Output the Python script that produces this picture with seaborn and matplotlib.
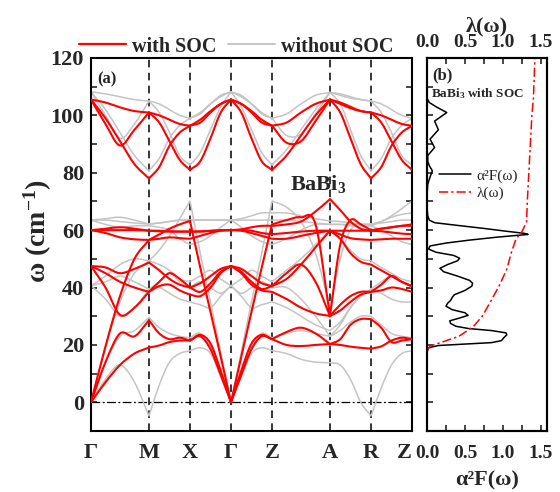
import numpy as np
import matplotlib
matplotlib.use("Agg")
import matplotlib.pyplot as plt
from matplotlib.path import Path
from matplotlib.patches import PathPatch
from matplotlib.lines import Line2D
import seaborn as sns
import pandas as pd

sns.set_theme(style="ticks")
plt.rcParams['font.family'] = ['Liberation Serif', 'DejaVu Serif']
plt.rcParams['mathtext.fontset'] = 'custom'
plt.rcParams['mathtext.rm'] = 'Liberation Serif'
plt.rcParams['mathtext.bf'] = 'Liberation Serif:bold'
plt.rcParams['mathtext.it'] = 'Liberation Serif:italic'

# high-symmetry path
kpoint_labels = ["Γ", "M", "X", "Γ", "Z", "A", "R", "Z"]
kpoint_dist = [0.0, 0.707, 1.207, 1.707, 2.207, 2.914, 3.414, 3.914]
samples_per_segment = 4

# phonon frequencies (cm^-1) with spin-orbit coupling, 4 samples per segment
# order: Γ-M | M-X | X-Γ | Γ-Z | Z-A | A-R | R-Z
soc_1 = [0, 7, 13, 17, 19.1, 19.8, 21, 21.5, 21.5, 23.5, 20.5, 11, 0, 11, 20.5, 23.5, 22,
         20, 19.6, 20, 20.3, 20, 19.4, 19, 18.7, 19.5, 21.5, 22.5, 22]
soc_2 = [0, 14, 24, 23, 28.6, 24, 22, 22.5, 21.5, 23, 18.5, 9.5, 0, 9.5, 18.5, 23, 22,
         24.5, 26, 24, 20.3, 22, 27, 29, 29, 26, 21, 21.5, 22]
soc_3 = [0, 19.5, 37, 50, 56.6, 58.5, 60.5, 62, 63.2, 47, 31.5, 15.8, 0, 15.8, 31.5, 47, 62,
         63.5, 64.5, 62, 30.1, 55, 63.5, 62, 60, 60.5, 61, 61.5, 62]
soc_4 = [47.5, 40, 30.5, 33, 38.5, 40.5, 41, 39, 37.5, 37, 40, 45, 47.5, 45, 41, 39, 38.5,
         36, 33, 31, 30.1, 32, 35, 37.5, 38.5, 39, 40, 39.5, 38.5]
soc_5 = [47.5, 45, 42, 40, 38.5, 42, 45, 43, 40, 38.5, 41.5, 45.5, 47.5, 45.5, 42, 39.5, 40.5,
         45, 48, 42, 30.1, 34, 37, 38.5, 38.5, 41, 44, 42, 40.5]
soc_6 = [47.5, 47, 45, 46.5, 48.7, 46, 43, 41, 40, 41.5, 44, 46.5, 47.5, 46.5, 44, 41.5, 40.5,
         43, 48, 54, 59.8, 57, 52, 49, 48, 46, 44, 42, 40.5]
soc_7 = [60, 59, 57.5, 56.8, 56.6, 57, 57.5, 57.2, 57, 58, 59, 59.8, 60, 59.8, 59, 58, 57,
         57, 58, 59, 59.8, 58.5, 57.2, 56.8, 56.6, 56.8, 57, 57, 57]
soc_8 = [60, 60, 60, 60, 59.8, 59.6, 59.5, 59.5, 59.5, 59.6, 59.8, 60, 60, 60, 59.8, 59, 58.6,
         59, 59.5, 59.8, 59.8, 59.8, 59.8, 59.8, 59.8, 59.6, 59.2, 58.8, 58.6]
soc_9 = [60, 60.5, 61, 60.5, 59.8, 59.8, 59.6, 59.5, 59.5, 59.5, 59.7, 59.9, 60, 60.3, 61, 61.5, 61.5,
         62, 63, 66.5, 70.8, 67, 63, 60.5, 59.8, 60.5, 61, 61.5, 61.5]
soc_10 = [105.5, 104.5, 102.8, 101.5, 101, 100, 98.5, 97, 96.4, 97.5, 101, 104, 105.5, 104, 101, 97.5, 96.4,
          97.5, 101, 104, 105.5, 104.5, 103, 101.5, 101, 100, 98.5, 97, 96.4]
soc_11 = [105.5, 97, 89.5, 95, 101, 97.5, 91, 84.5, 81, 84, 92, 101, 105.5, 101, 92, 84, 81,
          86, 93, 100, 105.5, 104, 102.5, 101.5, 101, 97.5, 91, 84.5, 81]
soc_12 = [105.5, 99, 91, 83, 78, 82, 89.4, 94, 96.4, 98.5, 101.5, 104, 105.5, 104, 101.5, 98.5, 96.4,
          90.5, 91, 98, 105.5, 101, 92, 83, 78, 82, 89.4, 94, 96.4]

# phonon frequencies (cm^-1) without spin-orbit coupling
nosoc_1 = [0, 8, 13, 7, -4.8, 6, 14, 17, 18, 19, 17, 9, 0, 9, 17, 19, 18,
           17, 15, 14, 13.8, 13, 8, 0, -4.8, 5, 13, 17, 18]
nosoc_2 = [0, 14, 23, 25, 29.6, 26, 24, 23, 22.5, 24, 19.5, 10, 0, 10, 19.5, 24, 22.5,
           24, 25, 24, 23, 25, 28, 30, 30, 27, 24, 23, 22.5]
nosoc_3 = [0, 19, 35, 45, 49.3, 53, 58, 64, 70.2, 52, 35, 17.5, 0, 17.5, 35, 52, 70.2,
           68, 63, 52, 33, 50, 60, 62, 61.5, 63, 65, 67.5, 70.2]
nosoc_4 = [40.6, 36, 30, 33, 39.4, 40, 38, 36, 35, 34, 33, 37, 40.6, 37, 33, 34, 35,
           33, 30, 27, 25, 28, 33, 37, 39.4, 38, 36, 35, 35]
nosoc_5 = [40.6, 42, 44, 42, 39.4, 42, 45, 42, 40, 42, 40, 38, 40.6, 38, 40, 42, 40,
           40, 36, 30, 23, 27, 33, 37, 39.4, 42, 44, 42, 40]
nosoc_6 = [40.6, 44, 48, 50, 49.3, 48, 46, 43, 42, 44, 46, 43, 40.6, 43, 46, 44, 42,
           46, 50, 55, 60, 57, 53, 50, 49.3, 47, 45, 43, 42]
nosoc_7 = [63.5, 62, 61, 61.5, 61.5, 61, 60, 57, 55, 56, 58, 61, 63.5, 61, 58, 56, 55,
           57, 60, 62, 62, 62, 61.5, 61.5, 61.5, 60, 58, 56, 55]
nosoc_8 = [63.5, 63.5, 63, 62.5, 62.1, 62.5, 63, 63.5, 63.5, 63.5, 63.5, 63.5, 63.5, 63.5, 63.5, 63.5, 63.5,
           63.5, 63, 62.5, 62, 62, 62, 62, 62.1, 62.5, 63, 63.5, 63.5]
nosoc_9 = [63.5, 64, 64.5, 63.5, 62.1, 62.5, 63, 63.5, 63.5, 63.5, 63.5, 63.5, 63.5, 64, 65, 66, 66,
           66, 65, 64, 63.2, 63, 62.5, 62, 62.1, 63, 64.5, 65.5, 66]
nosoc_10 = [108.2, 107.5, 106.5, 105.5, 105, 104, 102, 100, 99, 100.5, 104, 107, 108.2, 107, 104, 100.5, 99,
            100.5, 104, 107, 108, 107.5, 106.5, 105.5, 105, 104, 102, 100, 99]
nosoc_11 = [108.2, 100, 92, 97, 105, 101, 94, 86, 82.7, 87, 95, 103, 108.2, 103, 95, 87, 82.7,
            88, 95, 102, 108, 107, 106, 105.5, 105, 101, 94, 86, 82.7]
nosoc_12 = [108.2, 102, 94, 86, 80.7, 85, 92, 96.5, 99, 101, 104, 106.5, 108.2, 106.5, 104, 101, 99,
            93, 93.5, 100.5, 108, 104, 95, 86, 80.7, 85, 92, 96.5, 99]

soc_bands = [soc_1, soc_2, soc_3, soc_4, soc_5, soc_6, soc_7, soc_8, soc_9, soc_10, soc_11, soc_12]
nosoc_bands = [nosoc_1, nosoc_2, nosoc_3, nosoc_4, nosoc_5, nosoc_6, nosoc_7, nosoc_8, nosoc_9,
               nosoc_10, nosoc_11, nosoc_12]

# Eliashberg function and cumulative coupling
a2f_omega = [0, 17.5, 19.0, 19.8, 20.3, 20.8, 21.5, 22.5, 23.5, 24.2, 25.0, 25.7, 26.5, 27.5, 28.4,
             29.3, 30.3, 31.2, 32.3, 33.5, 34.5, 35.5, 36.5, 37.5, 39.0, 40.5, 41.5, 42.5, 44.0,
             45.5, 46.7, 48.0, 49.3, 50.2, 51.2, 52.3, 53.4, 54.5, 55.5, 56.5, 57.5, 58.1, 58.5,
             58.9, 59.6, 60.6, 61.6, 62.6, 63.5, 65.0, 68, 72, 76, 78.5, 80.7, 82.5, 84, 86, 88.8,
             91.7, 95, 98, 101, 103, 104.5, 106, 110, 120]
a2f_value = [0, 0, 0.02, 0.15, 0.5, 0.85, 0.98, 1.01, 1.05, 1.04, 0.85, 0.55, 0.38, 0.31, 0.30,
             0.42, 0.54, 0.50, 0.33, 0.25, 0.27, 0.31, 0.33, 0.36, 0.50, 0.59, 0.60, 0.56, 0.40,
             0.22, 0.17, 0.27, 0.40, 0.43, 0.35, 0.12, 0.02, 0.04, 0.25, 0.55, 0.9, 1.15, 1.33,
             1.28, 1.05, 0.75, 0.42, 0.1, 0.03, 0.01, 0, 0, 0.01, 0.04, 0.07, 0.03, 0.01, 0.01, 0.10,
             0.04, 0.15, 0.10, 0.26, 0.12, 0.03, 0, 0, 0]
lam_omega = [0, 18.0, 19.6, 21.0, 23.0, 26.4, 30.1, 34.8, 40.6, 46.4, 52.2, 56.9, 59.5, 62.8,
             70, 80, 90, 100, 106, 120]
lam_value = [0, 0, 0.04, 0.2, 0.42, 0.61, 0.73, 0.83, 0.95, 1.05, 1.11, 1.17, 1.25, 1.31,
             1.32, 1.34, 1.36, 1.38, 1.40, 1.42]


def sample_positions():
    pos = []
    for a, b in zip(kpoint_dist[:-1], kpoint_dist[1:]):
        pos.extend(np.linspace(a, b, samples_per_segment + 1)[:-1])
    pos.append(kpoint_dist[-1])
    return np.array(pos)


def band_path(k, w):
    """Smooth cubic path through the samples of each path segment."""
    w = np.asarray(w, float)
    verts = [(k[0], w[0])]
    codes = [Path.MOVETO]
    n = samples_per_segment
    for s in range(len(kpoint_dist) - 1):
        P = np.column_stack([k[s * n:s * n + n + 1], w[s * n:s * n + n + 1]])
        T = np.zeros_like(P)
        T[0] = P[1] - P[0]
        T[-1] = P[-1] - P[-2]
        T[1:-1] = (P[2:] - P[:-2]) / 2
        for i in range(n):
            verts += [tuple(P[i] + T[i] / 3), tuple(P[i + 1] - T[i + 1] / 3), tuple(P[i + 1])]
            codes += [Path.CURVE4] * 3
    return Path(verts, codes)


serif_bold = dict(family='Liberation Serif', weight='bold')

fig = plt.figure(figsize=(5.6, 4.92), dpi=100)
ax = fig.add_axes([91 / 560, 1 - 431 / 492, (412 - 91) / 560, (431 - 58) / 492])
axb = fig.add_axes([427 / 560, 1 - 431 / 492, (546.7 - 427) / 560, (431 - 58) / 492])

k = sample_positions()
for band in nosoc_bands:
    ax.add_patch(PathPatch(band_path(k, band), fill=False, edgecolor='#c4c4c4', lw=1.1, zorder=2))
for band in soc_bands:
    ax.add_patch(PathPatch(band_path(k, band), fill=False, edgecolor='#ff0000', lw=1.5, zorder=3))

for d in kpoint_dist[1:-1]:
    ax.axvline(d, color='black', lw=1.1, dashes=(5, 3.5), zorder=1)
ax.axhline(0, color='black', lw=0.9, dashes=(7, 2, 1.5, 2), zorder=1)

ax.set_xlim(kpoint_dist[0], kpoint_dist[-1])
ax.set_ylim(-10, 120)
ax.set_xticks(kpoint_dist)
ax.set_xticklabels(kpoint_labels, fontdict=dict(size=16, **serif_bold))
ax.get_xticklabels()[-1].set_horizontalalignment('right')
ax.set_yticks(range(0, 121, 20))
ax.set_yticklabels([str(v) for v in range(0, 121, 20)], fontdict=dict(size=16, **serif_bold))
ax.set_yticks(range(-10, 121, 10), minor=True)
ax.tick_params(axis='x', length=0, pad=9)
ax.tick_params(axis='y', which='both', direction='in', length=4, width=1.2, right=True, pad=5)
for sp in ax.spines.values():
    sp.set_linewidth(1.5)
    sp.set_color('black')

fig.text(38 / 560, 1 - 231 / 492, 'ω (cm$^{\\mathbf{-1}}$)', rotation=90, ha='center', va='center',
         size=20, **serif_bold)
ax.text(0.02, 0.965, '(a)', transform=ax.transAxes, ha='left', va='top', size=12, **serif_bold)
ax.text(2.43, 76, 'BaBi$_{\\mathbf{3}}$', ha='left', va='center', size=16, **serif_bold)

handles = [Line2D([], [], color='#ff0000', lw=1.6), Line2D([], [], color='#c4c4c4', lw=1.4)]
fig.legend(handles, ['with SOC', 'without SOC'], loc='center left',
           bbox_to_anchor=(79 / 560, 1 - 46.5 / 492), ncol=2, frameon=False,
           prop=dict(size=14.5, **serif_bold), handlelength=2.35, handletextpad=0.3,
           columnspacing=0.55, borderpad=0, borderaxespad=0)

# panel (b): Eliashberg function and cumulative coupling
a2f = pd.DataFrame({'omega': a2f_omega, 'a2F': a2f_value})
lam = pd.DataFrame({'omega': lam_omega, 'lambda': lam_value})
sns.lineplot(data=a2f, x='a2F', y='omega', orient='y', sort=True, color='black', lw=1.1, ax=axb)
axt = axb.twiny()
sns.lineplot(data=lam, x='lambda', y='omega', orient='y', sort=True, color='#ff0000', lw=1.1,
             ax=axt, dashes=False)
axt.lines[0].set_dashes((6, 2, 1.5, 2))

for a in (axb, axt):
    a.set_xlim(0, 1.575)
    a.set_ylim(-10, 120)
axb.set_xticks([0, 0.5, 1.0, 1.5])
axb.set_xticklabels(['0.0', '0.5', '1.0', '1.5'], fontdict=dict(size=14, **serif_bold))
axb.set_xticks([0.25, 0.75, 1.25], minor=True)
axt.set_xticks([0, 0.5, 1.0, 1.5])
axt.set_xticklabels(['0.0', '0.5', '1.0', '1.5'], fontdict=dict(size=14, **serif_bold))
axt.set_xticks([0.25, 0.75, 1.25], minor=True)
axb.set_yticks(range(-10, 121, 10))
axb.set_yticklabels([])
axb.tick_params(axis='y', direction='in', length=4, width=1.2, left=True, right=False)
axb.tick_params(axis='x', which='both', direction='in', length=4, width=1.2, pad=10)
axt.tick_params(axis='x', which='both', direction='in', length=4, width=1.2, pad=5)
axt.tick_params(axis='y', left=False, right=False, labelleft=False, labelright=False)
axb.set_xlabel('α²F(ω)', size=16, labelpad=6, **serif_bold)
axt.set_xlabel('λ(ω)', size=16, labelpad=2, **serif_bold)
axb.set_ylabel('')
axt.set_ylabel('')
for a in (axb, axt):
    for sp in a.spines.values():
        sp.set_linewidth(1.5)
        sp.set_color('black')

axb.text(0.04, 0.975, '(b)', transform=axb.transAxes, ha='left', va='top', size=12, **serif_bold)
axb.text(0.03, 0.925, 'BaBi$_{\\mathbf{3}}$ with SOC', transform=axb.transAxes, ha='left', va='top',
         size=9.5, **serif_bold)
leg_handles = [Line2D([], [], color='black', lw=1.1),
               Line2D([], [], color='#ff0000', lw=1.1, dashes=(6, 2, 1.5, 2))]
axb.legend(leg_handles, ['α²F(ω)', 'λ(ω)'], loc='upper left', bbox_to_anchor=(0.1, 0.703),
           frameon=False, prop=dict(family='Liberation Serif', size=11), handlelength=2.1,
           handletextpad=0.35, labelspacing=0.25, borderpad=0, borderaxespad=0)

fig.savefig('out.png', dpi=100)
